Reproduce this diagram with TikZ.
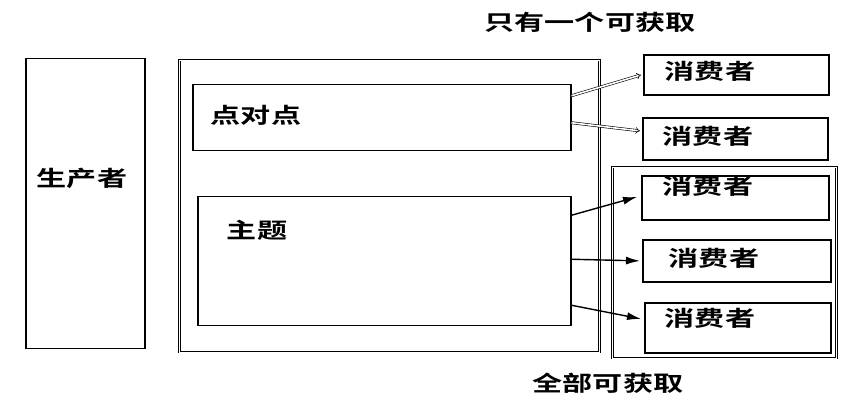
\documentclass[tikz,border=0pt]{standalone}
\usepackage{fontspec}
\newfontfamily\cjk{Noto Sans CJK SC Bold}[FakeStretch=1.4]
\usetikzlibrary{arrows.meta}
\begin{document}
\begin{tikzpicture}[x=1pt,y=-1pt,
  box/.style={draw,line width=1.8pt,anchor=north west,inner sep=0pt},
  dbox/.style={draw,double,double distance=1.2pt,line width=0.6pt,anchor=north west,inner sep=0pt},
  lbl/.style={font=\cjk\fontsize{21.5}{24}\selectfont,inner sep=0pt},
  openarr/.style={double,double distance=1.6pt,line width=0.6pt,-{Implies[length=8pt]}},
  fillarr/.style={line width=1.4pt,-{Latex[length=14pt,width=8pt]}}]
\useasboundingbox (0,0) rectangle (847,406);
% producer
\node[box,line width=1.5pt,minimum width=119pt,minimum height=290pt] (prod) at (25,58) {};
\node[lbl] (prodl) at (82,178) {生产者};
% broker
\node[dbox,minimum width=420pt,minimum height=292pt] (broker) at (179,60) {};
\node[box,line width=1.5pt,minimum width=378pt,minimum height=66pt] (p2p) at (192,84) {};
\node[lbl] (p2pl) at (256,115) {点对点};
\node[box,line width=1.5pt,minimum width=373pt,minimum height=129pt] (topic) at (197,196) {};
\node[lbl] (topicl) at (257,230) {主题};
% consumers
\node[box,minimum width=185pt,minimum height=40pt] (c1) at (643,54) {};
\node[lbl] (c1l) at (710,71) {消费者};
\node[box,minimum width=185pt,minimum height=42pt] (c2) at (642,117) {};
\node[lbl] (c2l) at (708,136) {消费者};
\node[dbox,minimum width=224pt,minimum height=191pt] (grp) at (612,167) {};
\node[box,minimum width=187pt,minimum height=44pt] (c3) at (641,175) {};
\node[lbl] (c3l) at (708,186) {消费者};
\node[box,minimum width=188pt,minimum height=42pt] (c4) at (642,239) {};
\node[lbl] (c4l) at (714,258) {消费者};
\node[box,minimum width=186pt,minimum height=50pt] (c5) at (644,302) {};
\node[lbl] (c5l) at (710,318) {消费者};
% captions
\node[lbl] (t1) at (590,22) {只有一个可获取};
\node[lbl] (t2) at (608,383) {全部可获取};
% arrows
\draw[openarr] ([yshift=22pt]p2p.east) -- ([xshift=-2pt]c1.west);
\draw[openarr] ([yshift=-5pt]p2p.east) -- ([xshift=-2pt,yshift=8pt]c2.west);
\draw[fillarr] ([yshift=46pt]topic.east) -- ([xshift=-4pt,yshift=1pt]c3.west);
\draw[fillarr] ([yshift=2pt]topic.east) -- ([xshift=-2pt]c4.west);
\draw[fillarr] ([yshift=-44pt]topic.east) -- ([xshift=-3pt,yshift=9pt]c5.west);
\end{tikzpicture}
\end{document}
